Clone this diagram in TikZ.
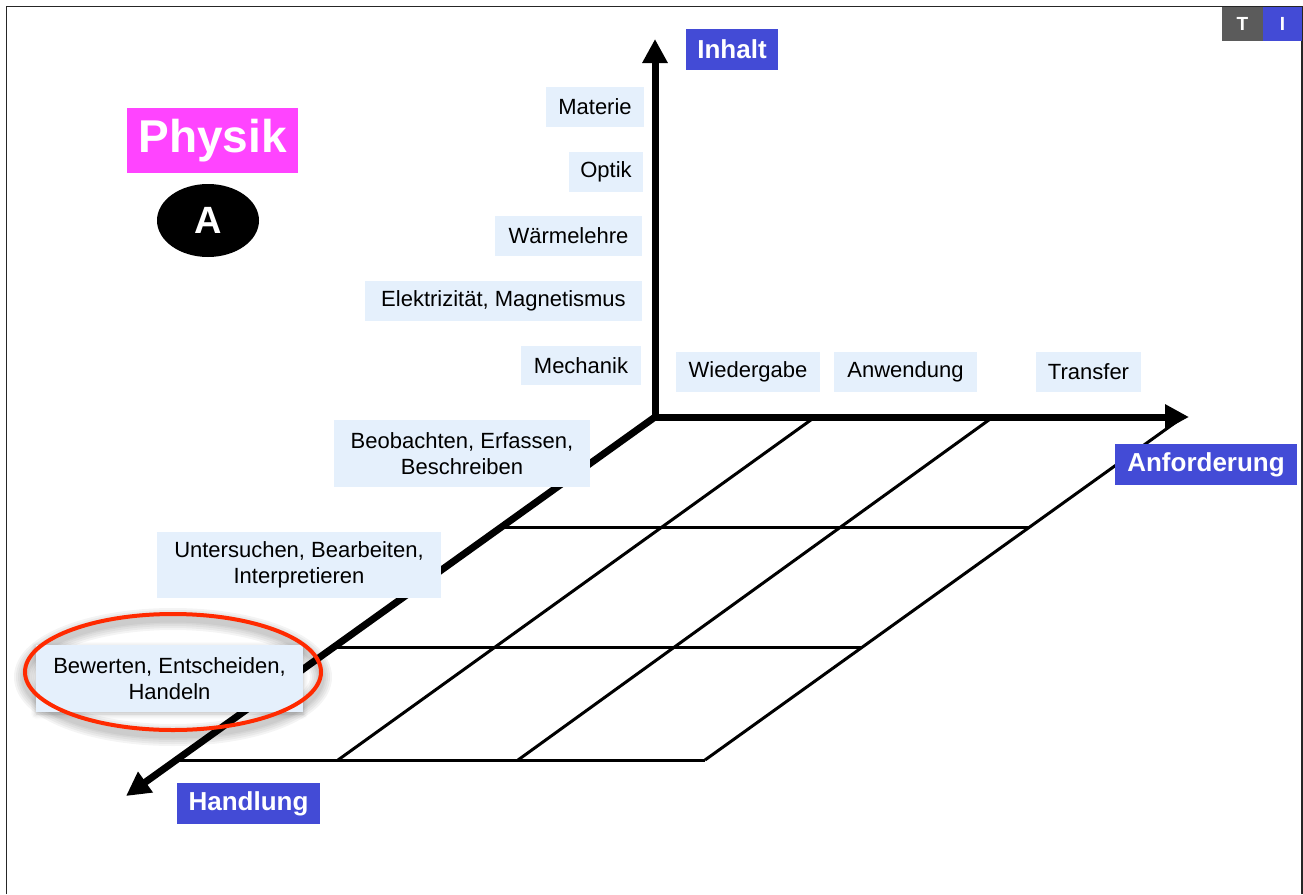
\documentclass[tikz,border=0pt]{standalone}
\usepackage{fontspec}
\setmainfont{Liberation Sans}
\usetikzlibrary{arrows.meta,shadows.blur,shapes.geometric}
\definecolor{cellblue}{RGB}{229,240,252}
\definecolor{axisblue}{RGB}{67,75,214}
\definecolor{physmag}{RGB}{255,68,255}
\definecolor{tabgray}{RGB}{91,91,91}
\definecolor{ringred}{RGB}{255,42,0}
\tikzset{
  cell/.style={fill=cellblue, inner sep=0pt, align=center,
    font=\fontsize{22}{26}\selectfont},
  axislabel/.style={fill=axisblue, text=white, inner sep=0pt,
    minimum height=41pt, font=\fontsize{26}{30}\selectfont\bfseries},
  axisline/.style={line width=7pt, -{Triangle[length=24pt,width=24pt]}},
  gridline/.style={line width=3pt},
  tab/.style={text=white, inner sep=0pt, minimum height=34pt,
    font=\fontsize{19}{21}\selectfont\bfseries}
}
\begin{document}
\begin{tikzpicture}[x=1pt,y=-1pt]
\useasboundingbox (0,0) rectangle (1303,894);

% page frame (open at the bottom)
\draw[line width=1.3pt, black!85] (6.5,894) -- (6.5,6.5) -- (1302,6.5) -- (1302,894);

% tabs in the top right corner
\node[tab, fill=tabgray, minimum width=41pt] (tabT) at (1242.5,23.5) {T};
\node[tab, fill=axisblue, minimum width=39pt] (tabI) at (1282.5,23.5) {I};

% subject title and level badge
\node[fill=physmag, text=white, inner sep=0pt, minimum width=171pt, minimum height=65pt,
  font=\fontsize{46}{50}\selectfont\bfseries] (physik) at (212.5,140.5) {Physik};
\node[ellipse, fill=black, text=white, inner sep=0pt, minimum width=102pt, minimum height=73pt,
  font=\fontsize{38}{40}\selectfont\bfseries] (level) at (208,220.5) {A};

% grid corner points
\coordinate (o)  at (655,417);
\coordinate (b1) at (815,417);
\coordinate (b2) at (993,417);
\coordinate (b3) at (1183,417);
\coordinate (l1) at (502,527);
\coordinate (l2) at (334,647);
\coordinate (l3) at (177,760);
\coordinate (r1) at (1029,527);
\coordinate (r2) at (861,647);
\coordinate (r3) at (705,760);
\coordinate (f1) at (338,760);
\coordinate (f2) at (518,760);

% floor grid
\draw[gridline] (l1) -- (r1);
\draw[gridline] (l2) -- (r2);
\draw[gridline] (l3) -- (r3);
\draw[gridline] (b1) -- (f1);
\draw[gridline] (b2) -- (f2);
\draw[gridline] (b3) -- (r3);

% axes
\coordinate (tipUp)    at (655,39);
\coordinate (tipRight) at (1189,417);
\coordinate (tipDown)  at (126,796);
\draw[axisline] (o) -- (tipUp);
\draw[axisline] (o) -- (tipRight);
\draw[axisline] (o) -- (tipDown);

% axis titles
\node[axislabel, minimum width=92pt]  (inhalt) at (732,49.5) {Inhalt};
\node[axislabel, minimum width=182pt] (anford) at (1206,464.5) {Anforderung};
\node[axislabel, minimum width=143pt] (handl)  at (248.5,803.5) {Handlung};

% content categories
\node[cell, minimum width=98pt,  minimum height=40pt] (materie) at (595,107) {Materie};
\node[cell, minimum width=74pt,  minimum height=40pt] (optik)   at (606,172) {Optik};
\node[cell, minimum width=147pt, minimum height=40pt] (waerme)  at (568.5,236) {Wärmelehre};
\node[cell, minimum width=277pt, minimum height=40pt] (elektro) at (503.5,301) {Elektrizität, Magnetismus};
\node[cell, minimum width=120pt, minimum height=39pt] (mechanik) at (581,365.5) {Mechanik};

% requirement levels
\node[cell, minimum width=144pt, minimum height=40pt] (wieder) at (748,372) {Wiedergabe};
\node[cell, minimum width=143pt, minimum height=40pt] (anwend) at (905.5,372) {Anwendung};
\node[cell, minimum width=105pt, minimum height=40pt] (transf) at (1088.5,372) {Transfer};

% activity levels
\node[cell, minimum width=256pt, minimum height=67pt] (beob) at (462,453.5)
  {Beobachten, Erfassen,\\Beschreiben};
\node[cell, minimum width=284pt, minimum height=66pt] (unters) at (299,565)
  {Untersuchen, Bearbeiten,\\Interpretieren};

% highlight ring with a soft shadow
\foreach \w in {22,18,14,10,7} {
  \draw[black, opacity=0.045, line width=\w pt] (173,677) ellipse [x radius=148, y radius=58];
}
\node[cell, minimum width=267pt, minimum height=67pt,
  blur shadow={shadow xshift=0pt, shadow yshift=-2pt, shadow blur radius=5pt, shadow opacity=25}]
  (bewert) at (169.5,678.5) {Bewerten, Entscheiden,\\Handeln};
\node[ellipse, draw=ringred, line width=4pt, minimum width=296pt, minimum height=116pt,
  inner sep=0pt] (ring) at (173,672) {};
\end{tikzpicture}
\end{document}
